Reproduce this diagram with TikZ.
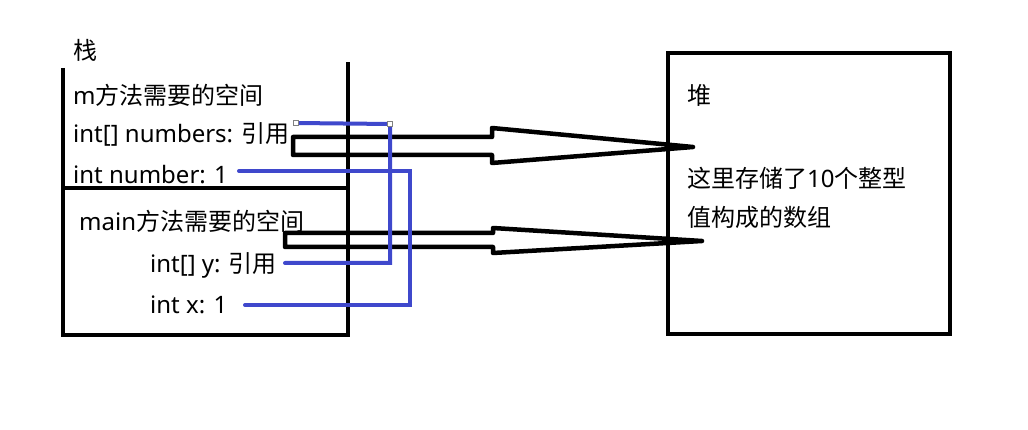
\documentclass[tikz,border=0pt]{standalone}
\usepackage{fontspec}
\setmainfont{Noto Sans}
\newfontfamily\cjk{Noto Sans CJK SC}
\begin{document}
\begin{tikzpicture}[x=1pt,y=-1pt,
  lbl/.style={anchor=west,inner sep=0pt,font=\fontsize{24}{28}\selectfont},
  frame/.style={line width=4.5pt,black},
  hollow/.style={line width=4.5pt,black,line join=round},
  link/.style={line width=4pt,color=linkblue,line cap=round},
  handle/.style={draw=gray,fill=white,line width=0.8pt,minimum size=5pt,inner sep=0pt}]
\definecolor{linkblue}{HTML}{3F48CC}
\useasboundingbox (0,0) rectangle (1028,430);
% stack frame
\draw[frame] (63,68) -- (63,335) -- (348,335) -- (348,62);
\draw[frame] (63,188) -- (348,188);
% heap frame
\draw[frame] (668,53) rectangle (950,334);
% labels
\node[lbl] (stack) at (73,50) {\cjk 栈};
\node[lbl] (mspace) at (73,95) {m\cjk 方法需要的空间};
\node[lbl] (numbers) at (73,134) {int[] numbers: {\cjk 引用}};
\node[lbl] (number) at (73,175) {int number: 1};
\node[lbl] (mainspace) at (79,221) {main\cjk 方法需要的空间};
\node[lbl] (y) at (150,265) {int[] y: {\cjk 引用}};
\node[lbl] (x) at (150,305) {int x: 1};
\node[lbl] (heap) at (687,95) {\cjk 堆};
\node[lbl] (desc1) at (687,178) {\cjk 这里存储了{\rmfamily 10}个整型};
\node[lbl] (desc2) at (687,217) {\cjk 值构成的数组};
% hollow arrows
\coordinate (a1) at (293,137); \coordinate (t1) at (693,147);
\draw[hollow] (a1) -- (492,137) -- (492,128) -- (t1) -- (492,163) -- (492,155) -- (293,155) -- cycle;
\coordinate (a2) at (285,233); \coordinate (t2) at (702,241);
\draw[hollow] (a2) -- (493,233) -- (493,228) -- (t2) -- (493,253) -- (493,247) -- (285,247) -- cycle;
% blue links
\coordinate (b1s) at (296,123); \coordinate (b1c) at (390,124);
\coordinate (b1e) at (285,263);
\draw[link] (b1s) -- (b1c) -- (390,263) -- (b1e);
\coordinate (b2s) at (239,171); \coordinate (b2e) at (245,305);
\draw[link] (b2s) -- (410,171) -- (410,305) -- (b2e);
\node[handle] (h1) at (b1s) {};
\node[handle] (h2) at (b1c) {};
\end{tikzpicture}
\end{document}
